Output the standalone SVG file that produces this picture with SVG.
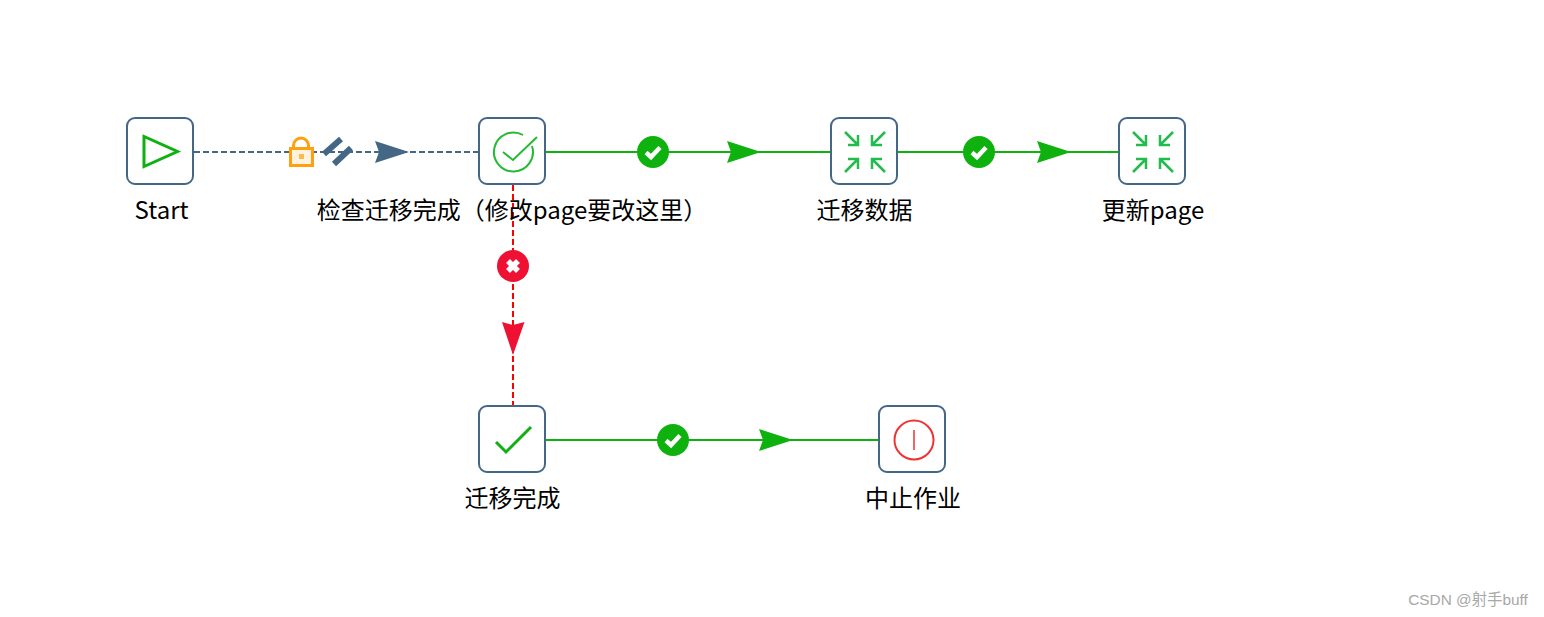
<svg xmlns="http://www.w3.org/2000/svg" width="1544" height="617" viewBox="0 0 1544 617">
<style>
.box{fill:#fff;stroke:#436785;stroke-width:2}
.lbl{font-family:"Noto Sans CJK SC","Liberation Sans",sans-serif;font-size:24px;fill:#000;text-anchor:middle}
.ok{fill:none;stroke:#0fb10f;stroke-width:2}
.g{fill:#0fb10f}
.r{fill:#ee1133}
.arr{fill:none;stroke:#22bb4c;stroke-width:2.500}
.tick{fill:none;stroke:#fff;stroke-width:4.500}
</style>
<defs>
<g id="okb"><circle r="16" class="g"/><path d="M-7 0.500L-2 5L7 -4.500" class="tick"/></g>
<g id="merge" class="arr">
<path d="M-20 -20L-7 -7M-17 -7H-7V-17M20 -20L7 -7M17 -7H7V-17M-20 20L-7 7M-17 7H-7V17M20 20L7 7M17 7H7V17"/>
</g>
<path id="head" d="M0 -11L34 0L0 11L4 0Z"/>
</defs>
<rect width="1544" height="617" fill="#fff"/>
<g id="connectors">
<path d="M194 152H478" fill="none" stroke="#436785" stroke-width="2" stroke-dasharray="6 3"/>
<path d="M546 152H830M898 152H1118M546 440H878" class="ok"/>
<path d="M513 185V405" fill="none" stroke="#ff0000" stroke-width="2" stroke-dasharray="6 3"/>
<g id="lock" fill="none" stroke="#ffa010">
<path d="M293.500 148V145.500A7.500 7.500 0 0 1 308.500 145.500V148" stroke-width="3"/>
<rect x="290.500" y="148.500" width="22" height="17" fill="#fff3df" stroke-width="3"/>
<rect x="299" y="154" width="5" height="5" fill="#ffb84d" stroke="none"/>
</g>
<path id="parallel" d="M324 154L341 139M334 164L351 148" fill="none" stroke="#436785" stroke-width="6"/>
<use href="#head" x="375" y="152" fill="#436785"/>
<use href="#okb" x="653" y="152"/>
<use href="#head" x="727" y="152" class="g"/>
<use href="#okb" x="979" y="152"/>
<use href="#head" x="1037" y="152" class="g"/>
<use href="#okb" x="673" y="440"/>
<use href="#head" x="759" y="440" class="g"/>
<circle cx="513" cy="266" r="16" class="r"/>
<path d="M508 261L518 271M518 261L508 271" stroke="#fff" stroke-width="5.500" fill="none"/>
<path d="M502 322L513 355L524.500 322L513 325Z" class="r"/>
</g>
<g id="node-start">
<rect x="127" y="118" width="66" height="66" rx="8" class="box"/>
<path d="M144 136.500V166.500L177.500 151.500Z" fill="none" stroke="#0fb10f" stroke-width="3"/>
<text x="161.500" y="219" class="lbl">Start</text>
</g>
<g id="node-check">
<rect x="479" y="118" width="66" height="66" rx="8" class="box"/>
<path d="M532 146A19.500 19.500 0 1 1 523 135" fill="none" stroke="#22bb33" stroke-width="2"/>
<path d="M503 152L513 160L537 137" fill="none" stroke="#22bb33" stroke-width="2"/>
<text x="512" y="219" class="lbl">检查迁移完成（修改page要改这里）</text>
</g>
<g id="node-migrate">
<rect x="831" y="118" width="66" height="66" rx="8" class="box"/>
<use href="#merge" x="865" y="152"/>
<text x="864.500" y="219" class="lbl">迁移数据</text>
</g>
<g id="node-update">
<rect x="1119" y="118" width="66" height="66" rx="8" class="box"/>
<use href="#merge" x="1153" y="152"/>
<text x="1153" y="219" class="lbl">更新page</text>
</g>
<g id="node-done">
<rect x="479" y="406" width="66" height="66" rx="8" class="box"/>
<path d="M496 442L506 452L531 427" fill="none" stroke="#0fb10f" stroke-width="3"/>
<text x="512.500" y="507" class="lbl">迁移完成</text>
</g>
<g id="node-abort">
<rect x="879" y="406" width="66" height="66" rx="8" class="box"/>
<circle cx="914" cy="440" r="19.500" fill="none" stroke="#ee3333" stroke-width="2"/>
<path d="M914 430V450" stroke="#ee3333" stroke-width="1.500"/>
<text x="913" y="507" class="lbl">中止作业</text>
</g>
<text x="1468" y="605" font-family="'Liberation Sans','Noto Sans CJK SC',sans-serif" font-size="15.400" fill="#a8a8a8" text-anchor="middle">CSDN @射手buff</text>
</svg>
